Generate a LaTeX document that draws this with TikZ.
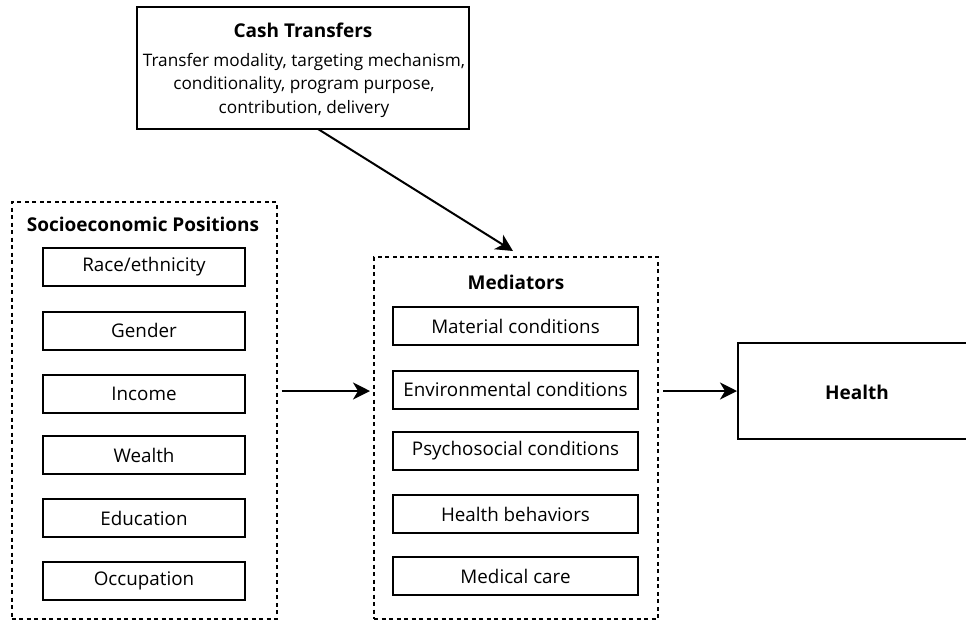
\documentclass[tikz,border=0pt]{standalone}
\usepackage{fontspec}
\setmainfont{Open Sans}
\usetikzlibrary{arrows.meta}
\begin{document}
\begin{tikzpicture}[x=1pt,y=-1pt,
  solidbox/.style={draw=black,line width=2pt,minimum height=38pt,inner sep=0pt,font=\fontsize{18.8}{21}\selectfont},
  dashbox/.style={draw=black,line width=2pt,dash pattern=on 4pt off 3.5pt},
  conn/.style={line width=2pt,-{Stealth[length=17pt,width=17pt,inset=5pt]}},
  ttl/.style={font=\fontsize{19}{22}\selectfont\bfseries}]
\useasboundingbox (0,0) rectangle (966,622);
\begin{scope}
\clip (0,0) rectangle (966,622);
% Cash transfers box
\node[draw=black,line width=2pt,minimum width=332pt,minimum height=122pt,inner sep=0pt] (ct) at (303,68) {};
\node[ttl] (ctt) at (303,30) {Cash Transfers};
\node[align=center,font=\fontsize{17.2}{23.5}\selectfont] (ctd) at (304,85) {Transfer modality, targeting mechanism,\\conditionality, program purpose,\\contribution, delivery};
% SEP
\node[dashbox,minimum width=265pt,minimum height=417pt,inner sep=0pt] (sep) at (144,410.5) {};
\node[ttl] (sept) at (143,224) {Socioeconomic Positions};
\node[solidbox,minimum width=202pt] (s1) at (144,267) {Race/ethnicity};
\node[solidbox,minimum width=202pt] (s2) at (144,330.5) {Gender};
\node[solidbox,minimum width=202pt] (s3) at (144,393.5) {Income};
\node[solidbox,minimum width=202pt] (s4) at (144,455) {Wealth};
\node[solidbox,minimum width=202pt] (s5) at (144,518) {Education};
\node[solidbox,minimum width=202pt] (s6) at (144,581) {Occupation};
% Mediators
\node[dashbox,minimum width=284pt,minimum height=362pt,inner sep=0pt] (med) at (516,438) {};
\node[ttl] (medt) at (516,282) {Mediators};
\node[solidbox,minimum width=245pt] (m1) at (515.5,326) {Material conditions};
\node[solidbox,minimum width=245pt] (m2) at (515.5,389.5) {Environmental conditions};
\node[solidbox,minimum width=245pt] (m3) at (515.5,451) {Psychosocial conditions};
\node[solidbox,minimum width=245pt] (m4) at (515.5,514) {Health behaviors};
\node[solidbox,minimum width=245pt] (m5) at (515.5,576) {Medical care};
% Health
\node[draw=black,line width=2pt,minimum width=238pt,minimum height=96pt,inner sep=0pt] (hb) at (857,391) {};
\node[ttl] (ht) at (857,392) {Health};
% connectors
\coordinate (a1) at (318,129);
\coordinate (a2) at (513,251);
\draw[conn] (a1) -- (a2);
\draw[conn] ([xshift=4pt]sep.east |- 0,391) -- ([xshift=-3pt]med.west |- 0,391);
\draw[conn] ([xshift=4pt]med.east |- 0,391) -- (hb.west |- 0,391);
\end{scope}
\end{tikzpicture}
\end{document}
